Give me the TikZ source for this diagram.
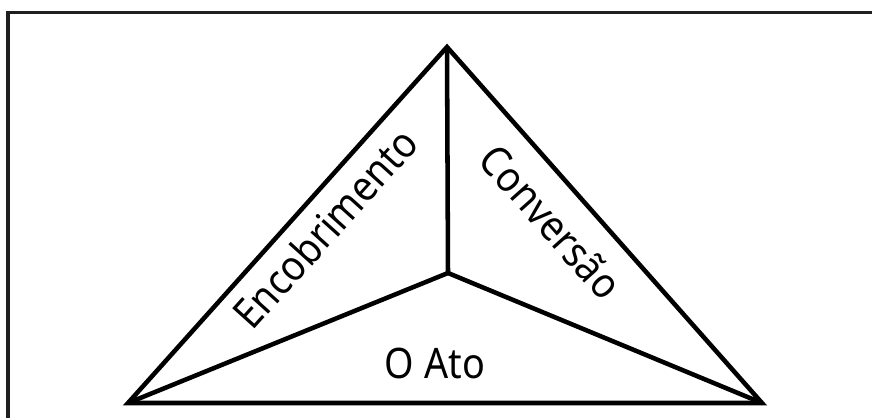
\documentclass[tikz,border=0pt]{standalone}
\usepackage{fontspec}
\newfontfamily\labelfont[FakeStretch=0.9]{Noto Sans}
\begin{document}
\begin{tikzpicture}[x=0.75pt,y=-0.75pt,
  frameline/.style={draw=black!88,line width=2.3pt},
  edge/.style={draw=black,line width=3.4pt,line join=miter,line cap=butt},
  facelabel/.style={font=\labelfont\fontsize{31.5}{36}\selectfont,inner sep=0pt}]
  \useasboundingbox (0,0) rectangle (872,418);
  \clip (0,0) rectangle (872,418);
  % outer frame (only its top and left sides fall inside the page)
  \draw[frameline] (8,12.5) rectangle (900,450);
  % pyramid seen from above: base corners, apex and the inner vertex
  \coordinate (top) at (447,47);
  \coordinate (left) at (128,403);
  \coordinate (right) at (762,403);
  \coordinate (mid) at (448,273);
  \draw[edge] (left) -- (top) -- (right) -- cycle;
  \draw[edge] (left) -- (mid) -- (right);
  \draw[edge] (top) -- (mid);
  % face labels
  \node[facelabel,rotate=48] (enc) at (325,228) {Encobrimento};
  \node[facelabel,rotate=-48.3] (conv) at (551,222) {Conversão};
  \node[facelabel] (ato) at (435,363) {O Ato};
\end{tikzpicture}
\end{document}
